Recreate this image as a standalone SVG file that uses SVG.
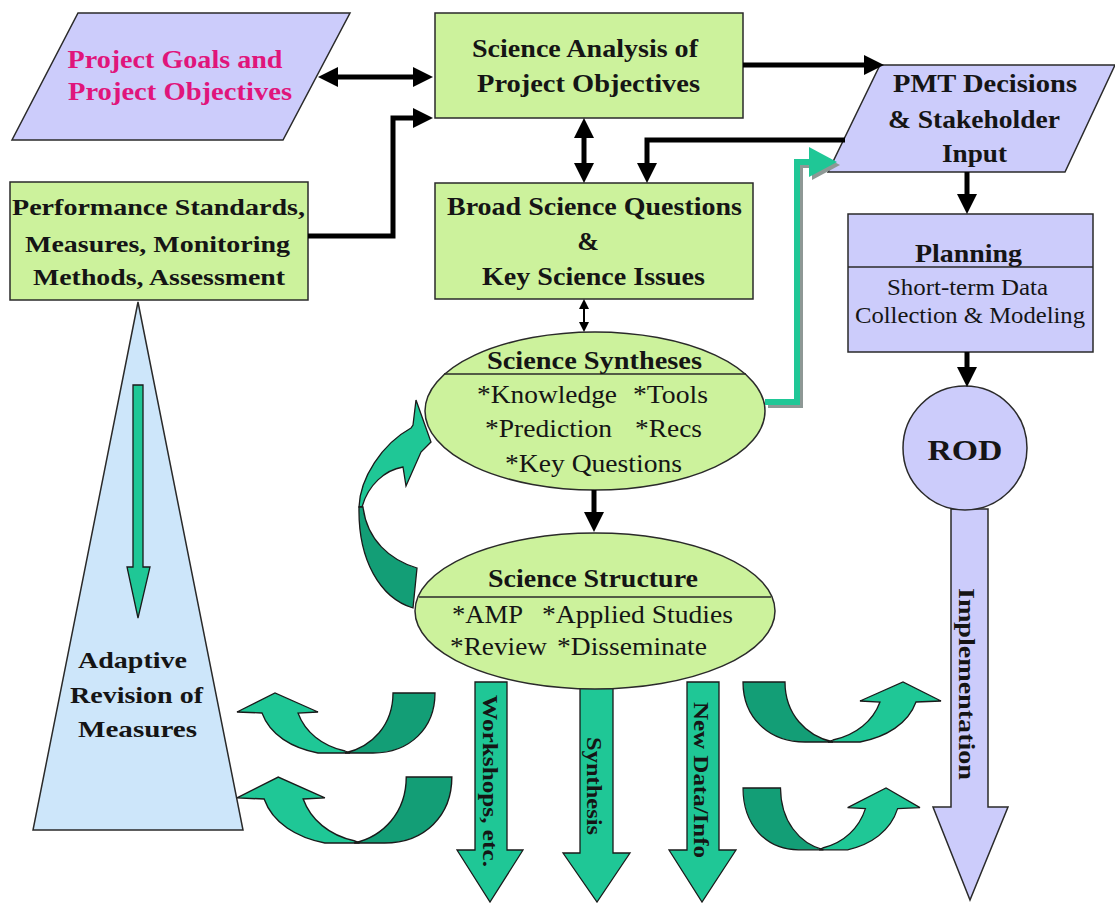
<svg xmlns="http://www.w3.org/2000/svg" xmlns:xlink="http://www.w3.org/1999/xlink" width="1115" height="903" viewBox="0 0 1115 903">
<style>
.b{font-family:"Liberation Serif",serif;font-weight:bold;fill:#151515}
.r{font-family:"Liberation Serif",serif;fill:#151515}
.green{fill:#ccf29c;stroke:#2a2a2a;stroke-width:1.5}
.lav{fill:#ccccfb;stroke:#2a2a2a;stroke-width:1.5}
.teal{fill:#1fc796;stroke:#1a1a1a;stroke-width:1.3}
.dteal{fill:#139e76;stroke:#1a1a1a;stroke-width:1.3}
.con{fill:none;stroke:#000;stroke-width:5}
</style>
<defs>
<marker id="ah" viewBox="0 0 20 20" markerWidth="20" markerHeight="20" refX="6" refY="10" orient="auto-start-reverse" markerUnits="userSpaceOnUse"><path d="M0,0L20,10L0,20Z" fill="#000"/></marker>
<marker id="ahs" viewBox="0 0 10 10" markerWidth="10" markerHeight="10" refX="3" refY="5" orient="auto-start-reverse" markerUnits="userSpaceOnUse"><path d="M0,0L10,5L0,10Z" fill="#000"/></marker>
<marker id="aht" viewBox="0 0 28 30" markerWidth="28" markerHeight="30" refX="8" refY="15" orient="auto" markerUnits="userSpaceOnUse"><path d="M0,0L28,15L0,30Z" fill="#1fc796"/></marker>
<marker id="ahg" viewBox="0 0 28 30" markerWidth="28" markerHeight="30" refX="8" refY="15" orient="auto" markerUnits="userSpaceOnUse"><path d="M0,0L28,15L0,30Z" fill="#8e9895"/></marker>
<g id="uturn">
<path class="teal" d="M262,713 L237,712 L275,693 L318,712 L298,713 C305,732 322,746 345,751 L350,753 L318,753 C292,748 270,735 262,713 Z"/>
<path class="dteal" d="M393,693 L435,693 C435,728 410,753 373,753 L345,753 C372,747 393,725 393,693 Z"/>
</g>
</defs>
<rect width="1115" height="903" fill="#fff"/>

<g id="adaptive">
<polygon points="138,302 243,830 33,830" fill="#cde6fa" stroke="#2a2a2a" stroke-width="1.5"/>
<path class="teal" d="M133,385 H143 V567 H150 L138,618 L127,567 H133 Z"/>
<text class="b" font-size="24" x="132.5" y="668" text-anchor="middle" textLength="109" lengthAdjust="spacingAndGlyphs">Adaptive</text>
<text class="b" font-size="24" x="136.5" y="703" text-anchor="middle" textLength="133" lengthAdjust="spacingAndGlyphs">Revision of</text>
<text class="b" font-size="24" x="137.5" y="737" text-anchor="middle" textLength="119" lengthAdjust="spacingAndGlyphs">Measures</text>
</g>

<g id="flow-arrows">
<path class="teal" d="M416,400 L431,442 L421,452 L406,486 L403,467 C385,470 368,485 362,507 L359,507 C360,478 382,444 411,428 L413,425 Z"/>
<path class="dteal" d="M359,507 C358,560 380,598 413,608 L417,568 C390,560 367,540 363,507 Z"/>
<use xlink:href="#uturn"/>
<use xlink:href="#uturn" transform="translate(237,777) scale(1.085,1.1) translate(-237,-693)"/>
<use xlink:href="#uturn" transform="translate(1178,-11) scale(-1,1)"/>
<use xlink:href="#uturn" transform="translate(743,788) scale(-0.894,1.03) translate(-435,-693)"/>
</g>

<g id="outputs">
<path class="teal" d="M475,682 H507 V850 H523 L490,902 L457,850 H475 Z"/>
<path class="teal" d="M580,688 H613 V853 H630 L597,902 L563,853 H580 Z"/>
<path class="teal" d="M687,682 H719 V850 H736 L702,902 L669,850 H687 Z"/>
<text class="b" font-size="22" transform="translate(483,781) rotate(90)" text-anchor="middle" textLength="172" lengthAdjust="spacingAndGlyphs">Workshops, etc.</text>
<text class="b" font-size="22" transform="translate(587,786) rotate(90)" text-anchor="middle" textLength="98" lengthAdjust="spacingAndGlyphs">Synthesis</text>
<text class="b" font-size="22" transform="translate(694,780) rotate(90)" text-anchor="middle" textLength="156" lengthAdjust="spacingAndGlyphs">New Data/Info</text>
</g>

<g id="goals">
<polygon class="lav" points="78,13 350,13 283,140 12,140"/>
<text class="b" font-size="26" fill="#e0157b" style="fill:#e0157b" x="175" y="68" text-anchor="middle" textLength="215" lengthAdjust="spacingAndGlyphs">Project Goals and</text>
<text class="b" font-size="26" style="fill:#e0157b" x="180" y="100" text-anchor="middle" textLength="224" lengthAdjust="spacingAndGlyphs">Project Objectives</text>
</g>

<g id="performance">
<rect class="green" x="10" y="182" width="298" height="118"/>
<text class="b" font-size="24" x="158.5" y="215" text-anchor="middle" textLength="293" lengthAdjust="spacingAndGlyphs">Performance Standards,</text>
<text class="b" font-size="24" x="157.5" y="252" text-anchor="middle" textLength="265" lengthAdjust="spacingAndGlyphs">Measures, Monitoring</text>
<text class="b" font-size="24" x="159" y="285" text-anchor="middle" textLength="252" lengthAdjust="spacingAndGlyphs">Methods, Assessment</text>
</g>

<g id="analysis">
<rect class="green" x="435" y="13" width="308" height="105"/>
<text class="b" font-size="26" x="585" y="57" text-anchor="middle" textLength="226" lengthAdjust="spacingAndGlyphs">Science Analysis of</text>
<text class="b" font-size="26" x="588.5" y="92" text-anchor="middle" textLength="223" lengthAdjust="spacingAndGlyphs">Project Objectives</text>
</g>

<g id="broad">
<rect class="green" x="435" y="183" width="318" height="116"/>
<text class="b" font-size="26" x="594.5" y="215" text-anchor="middle" textLength="295" lengthAdjust="spacingAndGlyphs">Broad Science Questions</text>
<text class="b" font-size="26" x="588" y="250" text-anchor="middle">&amp;</text>
<text class="b" font-size="26" x="593.5" y="285" text-anchor="middle" textLength="223" lengthAdjust="spacingAndGlyphs">Key Science Issues</text>
</g>

<g id="pmt">
<polygon class="lav" points="880,65 1115,65 1065,172 828,172"/>
<text class="b" font-size="26" x="985" y="92" text-anchor="middle" textLength="184" lengthAdjust="spacingAndGlyphs">PMT Decisions</text>
<text class="b" font-size="26" x="974" y="128" text-anchor="middle" textLength="172" lengthAdjust="spacingAndGlyphs">&amp; Stakeholder</text>
<text class="b" font-size="26" x="974.5" y="162" text-anchor="middle" textLength="65" lengthAdjust="spacingAndGlyphs">Input</text>
</g>

<g id="planning">
<rect class="lav" x="848" y="214" width="245" height="138"/>
<line x1="848" y1="267" x2="1093" y2="267" stroke="#2a2a2a" stroke-width="1.5"/>
<text class="b" font-size="25" x="968.5" y="262" text-anchor="middle" textLength="107" lengthAdjust="spacingAndGlyphs">Planning</text>
<text class="r" font-size="24" x="967.5" y="295" text-anchor="middle" textLength="161" lengthAdjust="spacingAndGlyphs">Short-term Data</text>
<text class="r" font-size="24" x="970" y="323" text-anchor="middle" textLength="230" lengthAdjust="spacingAndGlyphs">Collection &amp; Modeling</text>
</g>

<g id="rod">
<path class="lav" d="M951,509 H988 V807 H1008 L970,900 L933,807 H951 Z"/>
<text class="b" font-size="24" transform="translate(959,684) rotate(90)" text-anchor="middle" textLength="192" lengthAdjust="spacingAndGlyphs">Implementation</text>
<circle class="lav" cx="965" cy="448" r="62"/>
<text class="b" font-size="30" x="965" y="460" text-anchor="middle" textLength="75" lengthAdjust="spacingAndGlyphs">ROD</text>
</g>

<g id="syntheses">
<ellipse class="green" cx="595" cy="411" rx="170" ry="79"/>
<line x1="444" y1="374" x2="746" y2="374" stroke="#2a2a2a" stroke-width="1.5"/>
<text class="b" font-size="26" x="594.5" y="369" text-anchor="middle" textLength="215" lengthAdjust="spacingAndGlyphs">Science Syntheses</text>
<text class="r" font-size="25" x="477" y="403" textLength="140" lengthAdjust="spacingAndGlyphs">*Knowledge</text>
<text class="r" font-size="25" x="633" y="403" textLength="75" lengthAdjust="spacingAndGlyphs">*Tools</text>
<text class="r" font-size="25" x="485" y="437" textLength="127" lengthAdjust="spacingAndGlyphs">*Prediction</text>
<text class="r" font-size="25" x="635" y="437" textLength="67" lengthAdjust="spacingAndGlyphs">*Recs</text>
<text class="r" font-size="25" x="593.5" y="472" text-anchor="middle" textLength="177" lengthAdjust="spacingAndGlyphs">*Key Questions</text>
</g>

<g id="structure">
<ellipse class="green" cx="595" cy="611" rx="180" ry="78"/>
<line x1="419" y1="597" x2="771" y2="597" stroke="#2a2a2a" stroke-width="1.5"/>
<text class="b" font-size="26" x="593" y="587" text-anchor="middle" textLength="210" lengthAdjust="spacingAndGlyphs">Science Structure</text>
<text class="r" font-size="25" x="452" y="623" textLength="71" lengthAdjust="spacingAndGlyphs">*AMP</text>
<text class="r" font-size="25" x="542" y="623" textLength="191" lengthAdjust="spacingAndGlyphs">*Applied Studies</text>
<text class="r" font-size="25" x="450" y="655" textLength="97" lengthAdjust="spacingAndGlyphs">*Review</text>
<text class="r" font-size="25" x="557" y="655" textLength="150" lengthAdjust="spacingAndGlyphs">*Disseminate</text>
</g>

<g id="connectors">
<path class="con" d="M332,77 H419" marker-start="url(#ah)" marker-end="url(#ah)"/>
<path class="con" d="M308,236 H393 V118 H419" marker-end="url(#ah)"/>
<path class="con" d="M584,132 V169" marker-start="url(#ah)" marker-end="url(#ah)"/>
<path class="con" d="M743,65 H870" marker-end="url(#ah)"/>
<path class="con" d="M845,140 H647 V169" marker-end="url(#ah)"/>
<path fill="none" stroke="#000" stroke-width="2" d="M584,306 V325" marker-start="url(#ahs)" marker-end="url(#ahs)"/>
<path class="con" d="M594,490 V518" marker-end="url(#ah)"/>
<path class="con" d="M967,172 V200" marker-end="url(#ah)"/>
<path class="con" d="M967,352 V373" marker-end="url(#ah)"/>
<path fill="none" stroke="#8e9895" stroke-width="6" d="M768,405 H800 V165 H820" marker-end="url(#ahg)"/>
<path fill="none" stroke="#1fc796" stroke-width="6" d="M765,402 H797 V162 H817" marker-end="url(#aht)"/>
</g>
</svg>
